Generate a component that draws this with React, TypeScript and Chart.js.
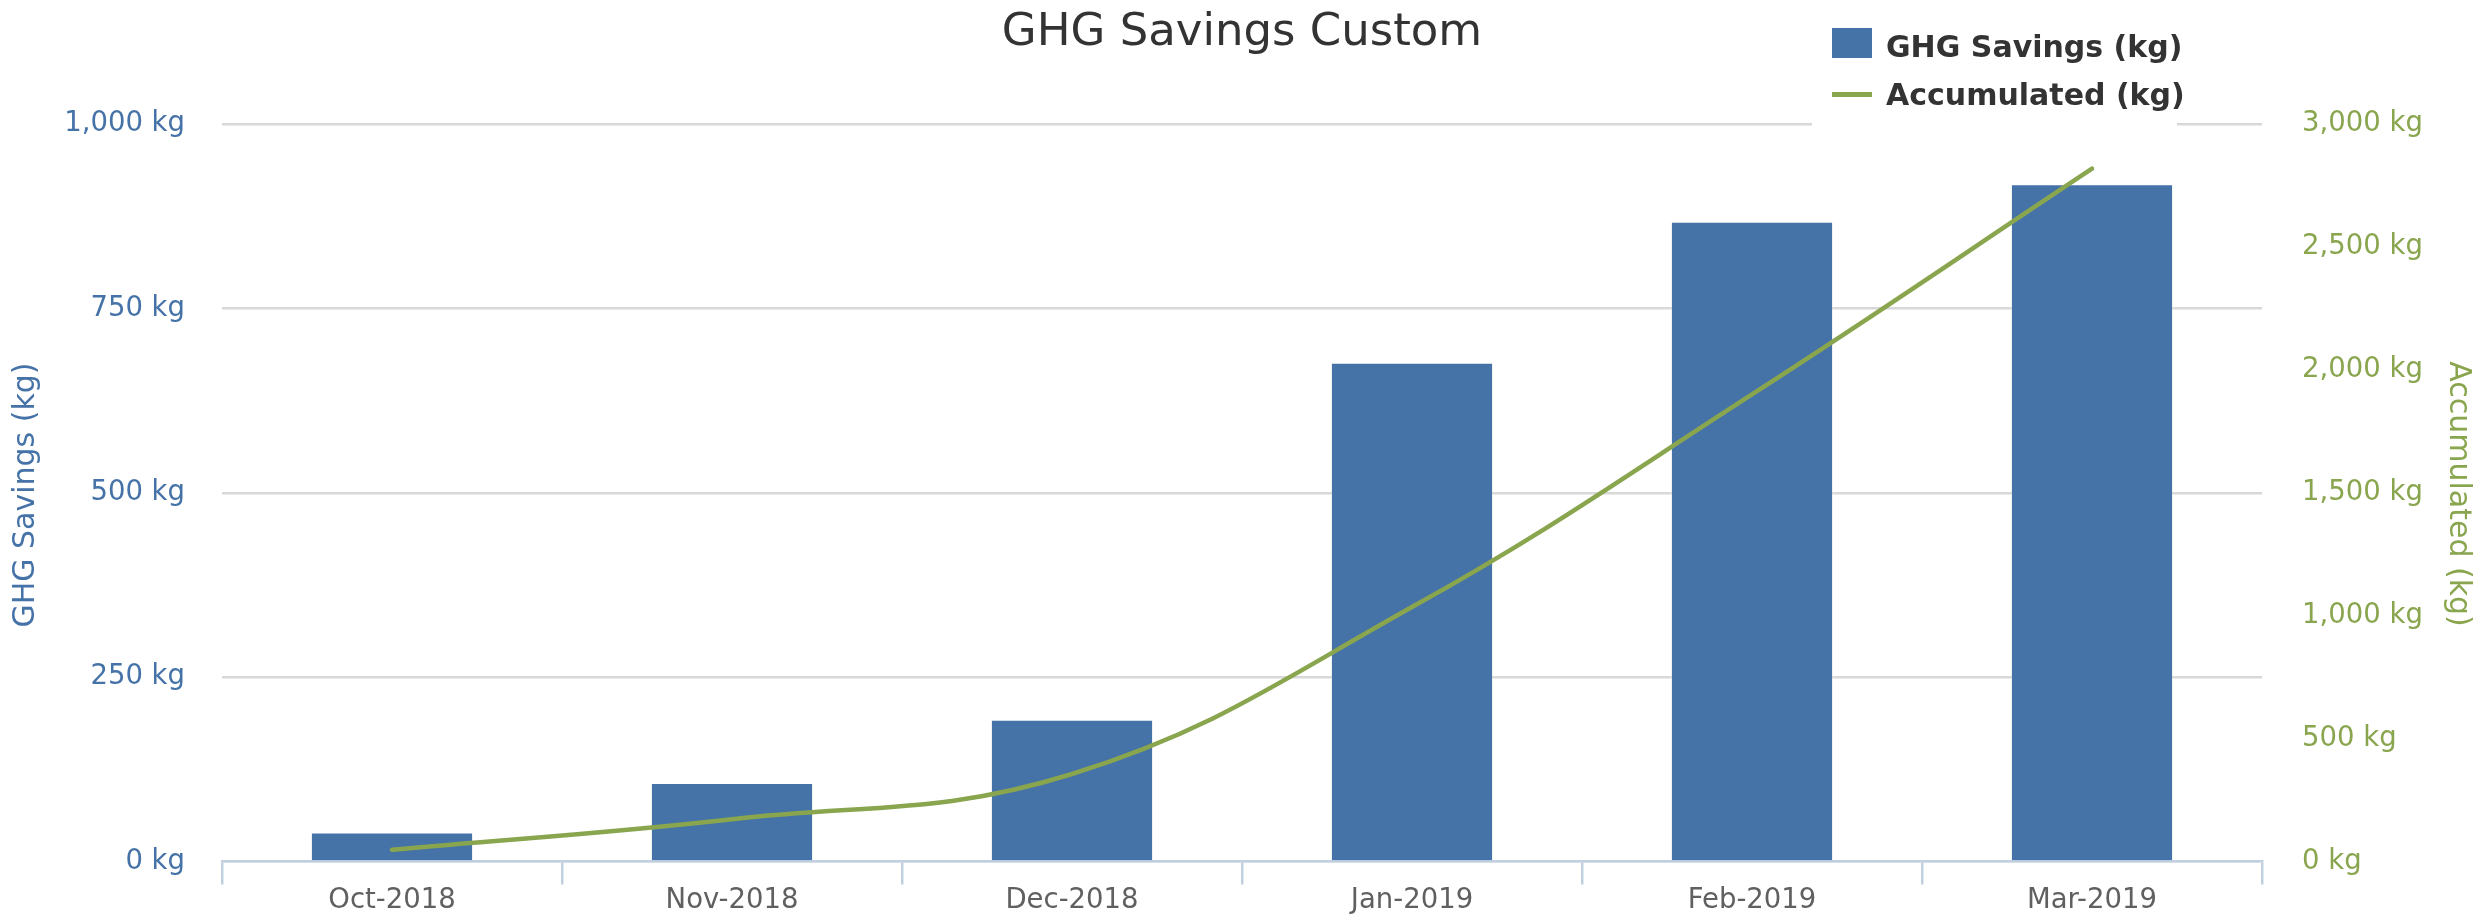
import React, { useEffect, useRef } from "react";
import { Chart, registerables } from "chart.js";

Chart.register(...registerables);

const categories = ["Oct-2018", "Nov-2018", "Dec-2018", "Jan-2019", "Feb-2019", "Mar-2019"];
const savings = [40, 107, 193, 677, 868, 919];
const accumulated = [48, 172, 356, 1035, 1900, 2818];
const leftTicks = [0, 250, 500, 750, 1000];
const rightTicks = [0, 500, 1000, 1500, 2000, 2500, 3000];

const FONT = '"DejaVu Sans", Verdana, sans-serif';
const BLUE = "#4572A7";
const GREEN = "#89A54E";

const fmt = (v: number) => Number(v).toLocaleString("en-US") + " kg";

const overlayPlugin = {
  id: "overlay",
  afterDraw(chart: any) {
    const ctx = chart.ctx as CanvasRenderingContext2D;
    ctx.save();
    // Title
    ctx.fillStyle = "#333333";
    ctx.font = `45px ${FONT}`;
    ctx.textAlign = "center";
    ctx.textBaseline = "alphabetic";
    ctx.fillText("GHG Savings Custom", 1242, 45);

    // Legend box
    ctx.fillStyle = "#FFFFFF";
    ctx.fillRect(1812, 0, 365, 128);
    ctx.fillStyle = BLUE;
    ctx.fillRect(1832, 28, 40, 30);
    ctx.strokeStyle = GREEN;
    ctx.lineWidth = 5;
    ctx.beginPath();
    ctx.moveTo(1832, 94.5);
    ctx.lineTo(1872, 94.5);
    ctx.stroke();
    ctx.fillStyle = "#333333";
    ctx.font = `bold 30px ${FONT}`;
    ctx.textAlign = "left";
    ctx.fillText("GHG Savings (kg)", 1886, 57);
    ctx.fillText("Accumulated (kg)", 1886, 105);

    // Axis titles
    ctx.font = `30px ${FONT}`;
    ctx.textAlign = "center";
    ctx.fillStyle = BLUE;
    ctx.save();
    ctx.translate(34, 495);
    ctx.rotate(-Math.PI / 2);
    ctx.fillText("GHG Savings (kg)", 0, 0);
    ctx.restore();
    ctx.fillStyle = GREEN;
    ctx.save();
    ctx.translate(2450, 494);
    ctx.rotate(Math.PI / 2);
    ctx.fillText("Accumulated (kg)", 0, 0);
    ctx.restore();
    ctx.restore();
  },
};

export default function App() {
  const ref = useRef<HTMLCanvasElement | null>(null);
  useEffect(() => {
    document.body.style.margin = "0";
    const canvas = ref.current;
    if (!canvas) return;
    const chart = new Chart(canvas, {
      type: "bar",
      data: {
        labels: categories,
        datasets: [
          {
            type: "line",
            label: "Accumulated (kg)",
            data: accumulated,
            yAxisID: "y1",
            borderColor: GREEN,
            backgroundColor: GREEN,
            borderWidth: 4.5,
            borderCapStyle: "round",
            pointRadius: 0,
            tension: 0.4,
            fill: false,
            order: 0,
          } as any,
          {
            type: "bar",
            label: "GHG Savings (kg)",
            data: savings,
            yAxisID: "y",
            backgroundColor: BLUE,
            borderColor: "rgba(255,255,255,0.3)",
            borderWidth: 1.5,
            categoryPercentage: 1,
            barPercentage: 0.48,
            order: 1,
          } as any,
        ],
      },
      options: {
        responsive: false,
        animation: false,
        devicePixelRatio: 1,
        layout: { padding: { top: 124, left: 0, right: 0, bottom: 0 } },
        plugins: {
          legend: { display: false },
          title: { display: false },
          tooltip: { enabled: false },
        },
        scales: {
          x: {
            offset: true,
            grid: {
              display: true,
              drawOnChartArea: false,
              drawTicks: true,
              tickLength: 23,
              color: "#C0D0E0",
              lineWidth: 2.5,
              offset: true,
            },
            border: { display: true, color: "#C0D0E0", width: 2.5 },
            ticks: {
              color: "#606060",
              font: { family: FONT, size: 27.5 },
              padding: 0,
              maxRotation: 0,
              autoSkip: false,
            },
            afterFit: (s: any) => {
              s.height = 53;
            },
          },
          y: {
            position: "left",
            min: 0,
            max: 1000,
            afterBuildTicks: (s: any) => {
              s.ticks = leftTicks.map((v) => ({ value: v }));
            },
            grid: { color: "#D8D8D8", lineWidth: 2.5, drawTicks: false },
            border: { display: false },
            ticks: {
              color: BLUE,
              padding: 37,
              font: { family: FONT, size: 27.5 },
              callback: (v: any) => fmt(v),
            },
            afterFit: (s: any) => {
              s.width = 222;
            },
          },
          y1: {
            position: "right",
            min: 0,
            max: 3000,
            afterBuildTicks: (s: any) => {
              s.ticks = rightTicks.map((v) => ({ value: v }));
            },
            grid: { drawOnChartArea: false, drawTicks: false },
            border: { display: false },
            ticks: {
              color: GREEN,
              padding: 40,
              font: { family: FONT, size: 27.5 },
              callback: (v: any) => fmt(v),
            },
            afterFit: (s: any) => {
              s.width = 227;
            },
          },
        },
      } as any,
      plugins: [overlayPlugin],
    });
    return () => chart.destroy();
  }, []);
  return <canvas ref={ref} width={2489} height={918} style={{ display: "block" }} />;
}
